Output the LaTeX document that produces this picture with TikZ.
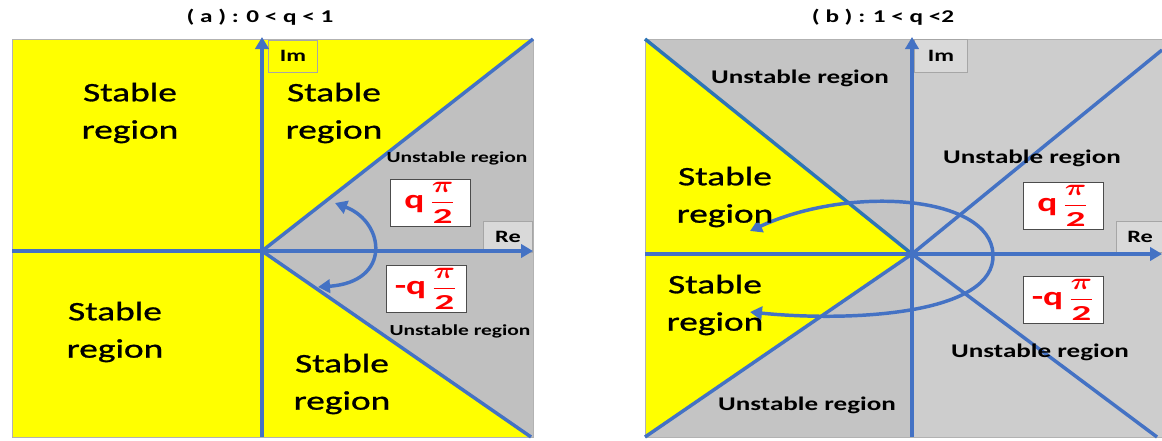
\documentclass[tikz,border=0pt]{standalone}
\usepackage{fontspec}
\usepackage{amsmath}
\usepackage{graphicx}
\setmainfont{Carlito}[FakeStretch=1.4]
\newfontfamily\regionfont{Carlito}[FakeStretch=1.4, FakeBold=1]
\usetikzlibrary{arrows.meta}

\definecolor{axisblue}{HTML}{4472C4}
\definecolor{edgeblue}{HTML}{2E75B6}
\definecolor{stablecol}{HTML}{FFFF00}
\definecolor{unstA}{HTML}{C0C0C0}
\definecolor{unstB}{HTML}{C4C4C4}
\definecolor{unstBright}{HTML}{CDCDCD}
\definecolor{labelgray}{HTML}{D9D9D9}
\definecolor{qred}{HTML}{FF0000}

% q*pi/2 label: large q followed by a stacked fraction
\newcommand\qangle[1]{{\fontsize{20}{24}\selectfont #1q}\hspace{4pt}\scalebox{1.3}[1]{\fontsize{16}{18}\selectfont$\dfrac{\boldsymbol{\pi}}{\textbf{2}}$}}

\begin{document}
\begin{tikzpicture}[x=0.75pt,y=-0.75pt,
  axis/.style={axisblue, line width=3pt, -{Triangle[length=9pt,width=10pt]}},
  wedge/.style={axisblue, line width=2.6pt},
  turn/.style={axisblue, line width=2.6pt,
    {Triangle[length=9pt,width=10pt]}-{Triangle[length=9pt,width=10pt]}},
  big/.style={font=\regionfont\fontsize{20}{28}\selectfont, align=center},
  small/.style={font=\fontsize{11.5}{13}\selectfont\bfseries},
  mid/.style={font=\fontsize{14.5}{16}\selectfont\bfseries},
  axlabel/.style={draw=gray!70, line width=0.5pt, fill=labelgray,
    font=\fontsize{13}{15}\selectfont\bfseries, inner sep=0pt},
  anglebox/.style={draw=black!70, fill=white, line width=0.7pt, text=qred,
    inner sep=0pt, minimum width=60pt, minimum height=35pt, font=\bfseries},
  title/.style={font=\fontsize{13.5}{15}\selectfont\bfseries},
  frame/.style={draw=gray!60, line width=0.5pt}
]
\useasboundingbox (0,0) rectangle (1162,440);

% ---------------- (a): 0 < q < 1 ----------------
\node[title] (titleA) at (260,17) {( a ) : 0 < q < 1};
\coordinate (OA) at (262,251);
\coordinate (A-ur) at (533,39);
\coordinate (A-lr) at (531,437);
\fill[stablecol] (12,39) rectangle (533,437);
\fill[unstA] (OA) -- (A-ur) -- (533,437) -- (A-lr) -- cycle;
\draw[frame] (12,39) rectangle (533,437);

\node[axlabel, fill=stablecol, minimum width=37pt, minimum height=24pt] (imA) at (293,56) {Im};
\node[axlabel, minimum width=37pt, minimum height=23pt] (reA) at (508,237) {Re};

\draw[wedge] (OA) -- (A-ur);
\draw[wedge] (OA) -- (A-lr);
\coordinate (A-imS) at (262,437);
\coordinate (A-imE) at (262,37);
\coordinate (A-reS) at (12,251);
\coordinate (A-reE) at (533,251);
\draw[axis] (A-imS) -- (A-imE);
\draw[axis] (A-reS) -- (A-reE);

\coordinate (A-arcS) at (335,203);
\coordinate (A-arcE) at (318,287);
\draw[turn] (A-arcS) .. controls (385,222) and (392,282) .. (A-arcE);

\node[big] (sA1) at (130,113) {Stable\\region};
\node[big] (sA2) at (334,113) {Stable\\region};
\node[big] (sA3) at (115,332) {Stable\\region};
\node[big] (sA4) at (342,384) {Stable\\region};
\node[small] (uA1) at (457,158) {Unstable region};
\node[small] (uA2) at (460,331) {Unstable region};
\node[anglebox] (qA) at (430,203) {\qangle{}};
\node[anglebox] (mqA) at (426,289) {\qangle{-}};

% ---------------- (b): 1 < q < 2 ----------------
\node[title] (titleB) at (883,17) {( b ) : 1 < q <2};
\coordinate (OB) at (912,254);
\coordinate (B-ul) at (645,39);
\coordinate (B-ll) at (645,437);
\coordinate (B-ur) at (1162,50);
\coordinate (B-lr) at (1157,437);
\fill[unstB] (645,39) rectangle (1162,437);
\fill[unstBright] (912,39) rectangle (1162,437);
\fill[stablecol] (B-ul) -- (OB) -- (B-ll) -- cycle;
\draw[frame] (1162,39) -- (645,39) -- (645,437) -- (1162,437);

\node[axlabel, minimum width=40pt, minimum height=25pt] (imB) at (941,56) {Im};
\node[axlabel, minimum width=36pt, minimum height=23pt] (reB) at (1140,237) {Re};

\draw[wedge, edgeblue] (B-ul) -- (OB);
\draw[wedge] (B-ll) -- (OB);
\draw[wedge] (OB) -- (B-ur);
\draw[wedge] (OB) -- (B-lr);
\coordinate (B-imS) at (912,437);
\coordinate (B-imE) at (912,37);
\coordinate (B-reS) at (645,254);
\coordinate (B-reE) at (1162,254);
\draw[axis] (B-imS) -- (B-imE);
\draw[axis] (B-reS) -- (B-reE);

\coordinate (B-arcS) at (750,231);
\coordinate (B-arcM) at (993,254);
\coordinate (B-arcE) at (750,312);
\draw[turn] (B-arcS) .. controls (850,185) and (990,195) .. (B-arcM)
  .. controls (996,315) and (850,322) .. (B-arcE);

\node[mid] (uB1) at (800,78) {Unstable region};
\node[big] (sB1) at (725,197) {Stable\\region};
\node[big] (sB2) at (715,305) {Stable\\region};
\node[mid] (uB2) at (1032,158) {Unstable region};
\node[mid] (uB3) at (1040,352) {Unstable region};
\node[mid] (uB4) at (807,405) {Unstable region};
\node[anglebox] (qB) at (1063,206) {\qangle{}};
\node[anglebox] (mqB) at (1063,300) {\qangle{-}};
\end{tikzpicture}
\end{document}
